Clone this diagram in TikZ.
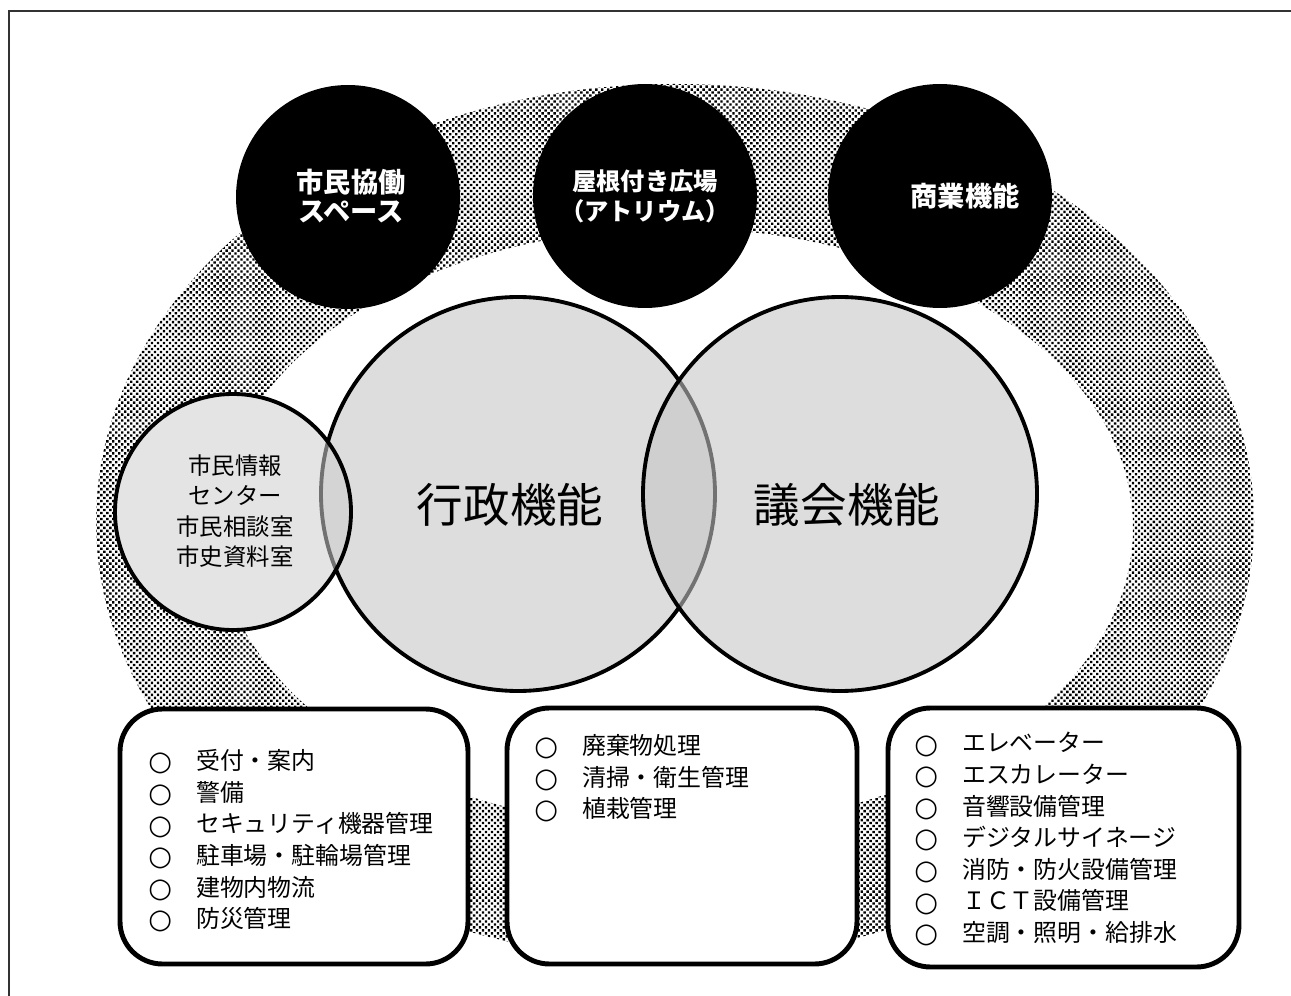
\documentclass[tikz,border=0pt]{standalone}
\usepackage{fontspec}
\setmainfont{Noto Sans CJK JP}
\newfontfamily\bulfont{DejaVu Sans}
\usetikzlibrary{patterns.meta}
\definecolor{circfill}{RGB}{198,198,198}
\definecolor{smallfill}{RGB}{206,206,206}
\definecolor{framecol}{RGB}{50,50,50}
\begin{document}
\begin{tikzpicture}[x=0.02cm,y=-0.02cm,
  ring/.style={pattern={Dots[distance=2.4pt,radius=0.95pt,angle=45]}, pattern color=black, even odd rule},
  disctext/.style={text=white, font=\bfseries\fontsize{15.5}{17}\selectfont, align=center, inner sep=0pt},
  venn/.style={fill=circfill, fill opacity=0.58, draw=black, line width=2.2pt},
  vennsmall/.style={fill=smallfill, fill opacity=0.55, draw=black, line width=2.2pt},
  venntext/.style={font=\fontsize{26.5}{30}\selectfont, inner sep=0pt},
  smalltext/.style={font=\fontsize{13.3}{17.4}\selectfont, align=center, inner sep=0pt},
  listbox/.style={draw=black, fill=white, line width=2.8pt, rounded corners=0.85cm},
  listtext/.style={font=\fontsize{13.6}{18}\selectfont, align=left, inner sep=0pt, anchor=north west},
]
\newcommand{\bul}{\makebox[1em][c]{\raisebox{-0.7pt}{\bulfont\bfseries\fontsize{15.5}{15.5}\selectfont ○}}}
\useasboundingbox (0,0) rectangle (1291,996);
\draw[framecol, line width=0.8pt] (1291,11) -- (9,11) -- (9,996);

% patterned ring
\path[ring] (675,522) ellipse[x radius=579, y radius=438]
            (675,528) ellipse[x radius=458, y radius=300];

% black discs
\fill[black] (348,197) circle[radius=112];
\fill[black] (645,196) circle[radius=112];
\fill[black] (940,196) circle[radius=112];
\node[disctext] (kyodo) at (351,196) {市民協働\\スペース};
\node[disctext, font=\bfseries\fontsize{13.8}{17}\selectfont] (atrium) at (645,196) {屋根付き広場\\（アトリウム）};
\node[disctext] (shogyo) at (965,196) {商業機能};

% venn circles
\fill[white] (518,494) circle[radius=197] (840,494) circle[radius=197] (233,512) circle[radius=118];
\path[venn] (518,494) circle[radius=197];
\path[venn] (840,494) circle[radius=197];
\path[vennsmall] (233,512) circle[radius=118];
\node[venntext] (gyosei) at (510,505) {行政機能};
\node[venntext] (gikai) at (847,505) {議会機能};
\node[smalltext] (joho) at (235,511) {市民情報\\センター\\市民相談室\\市史資料室};

% list boxes
\draw[listbox] (120,709) rectangle (468,964);
\draw[listbox] (507,708) rectangle (857,964);
\draw[listbox] (888,708) rectangle (1239,967);
\node[listtext] (list1) at (148,749) {\bul　受付・案内\\\bul　警備\\\bul　セキュリティ機器管理\\\bul　駐車場・駐輪場管理\\\bul　建物内物流\\\bul　防災管理};
\node[listtext] (list2) at (534,734) {\bul　廃棄物処理\\\bul　清掃・衛生管理\\\bul　植栽管理};
\node[listtext] (list3) at (914,732) {\bul　エレベーター\\\bul　エスカレーター\\\bul　音響設備管理\\\bul　デジタルサイネージ\\\bul　消防・防火設備管理\\\bul　ＩＣＴ設備管理\\\bul　空調・照明・給排水};
\end{tikzpicture}
\end{document}
